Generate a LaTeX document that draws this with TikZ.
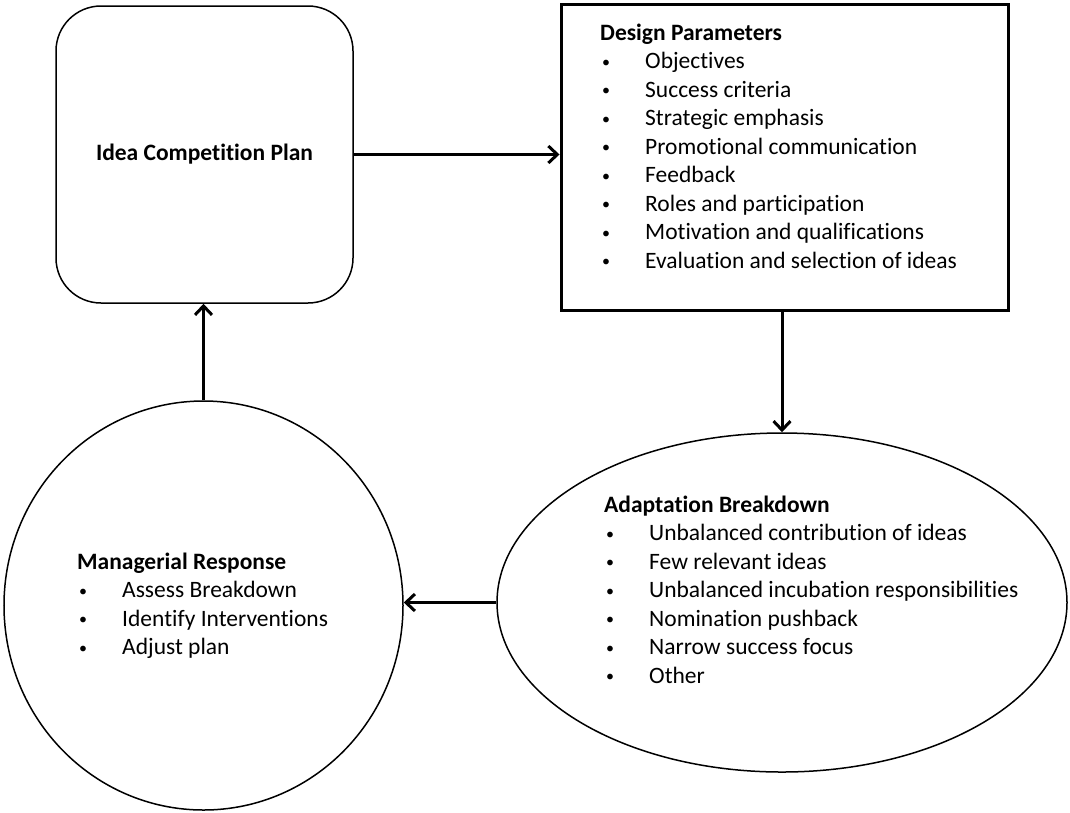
\documentclass[tikz,border=0pt]{standalone}
\usepackage{fontspec}
\setmainfont{Carlito}[Ligatures=NoCommon]
\usetikzlibrary{arrows.meta,shapes.geometric}
\newcommand{\bul}{\makebox[45pt][l]{\hspace{2pt}\raisebox{1.5pt}{\fontsize{16}{16}\selectfont\textbullet}}}

\begin{document}
\begin{tikzpicture}[x=1pt,y=-1pt,
  every node/.style={font=\fontsize{23.5}{28}\selectfont},
  item/.style={anchor=base west,inner sep=0pt},
  head/.style={item,font=\fontsize{23.5}{28}\selectfont\bfseries},
  arr/.style={line width=3pt,-{Straight Barb[length=9pt,width=17pt]}}]
\useasboundingbox (0,0) rectangle (1070,812);
% the four boxes
\node[draw,line width=1.5pt,rounded corners=45pt,minimum width=297pt,minimum height=297pt] (plan) at (204.5,154.5) {\bfseries Idea Competition Plan};
\node[draw,line width=3pt,minimum width=447pt,minimum height=306pt] (params) at (784.5,157) {};
\node[draw,ellipse,line width=1.5pt,inner sep=0pt,minimum width=570pt,minimum height=339pt] (adapt) at (782,602.5) {};
\node[draw,ellipse,line width=1.5pt,inner sep=0pt,minimum width=399pt,minimum height=409pt] (resp) at (203.5,605.5) {};
% design parameters
\node[head] (dpt) at (600,40) {Design Parameters};
\foreach \t [count=\i] in {Objectives,Success criteria,Strategic emphasis,Promotional communication,Feedback,Roles and participation,Motivation and qualifications,Evaluation and selection of ideas}
  \node[item] (dp\i) at (600,40+28.5*\i) {\bul\t};
% adaptation breakdown
\node[head] (abt) at (604,512) {Adaptation Breakdown};
\foreach \t [count=\i] in {Unbalanced contribution of ideas,Few relevant ideas,Unbalanced incubation responsibilities,Nomination pushback,Narrow success focus,Other}
  \node[item] (ab\i) at (604,512+28.5*\i) {\bul\t};
% managerial response
\node[head] (mrt) at (77,569) {Managerial Response};
\foreach \t [count=\i] in {Assess Breakdown,Identify Interventions,Adjust plan}
  \node[item] (mr\i) at (77,569+28.5*\i) {\bul\t};
% the cycle
\draw[arr] (plan.east) -- (plan.east -| params.west);
\draw[arr] (adapt.north |- params.south) -- (adapt.north);
\draw[arr] (adapt.west) -- (adapt.west -| resp.east);
\draw[arr] (resp.north) -- (resp.north |- plan.south);
\end{tikzpicture}
\end{document}
